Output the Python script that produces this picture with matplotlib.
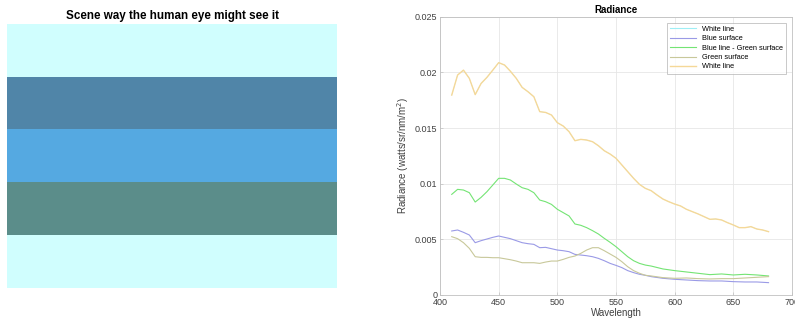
import numpy as np
import matplotlib.pyplot as plt
from matplotlib.colors import ListedColormap

plt.rcParams['font.family'] = ['Liberation Sans', 'DejaVu Sans']

# scene stripes, top to bottom
stripe_names = ["White line", "Blue surface", "Blue line - Green surface", "Green surface", "White line"]
stripe_colors = ["#d0fefe", "#5085a8", "#55a9e1", "#5b8d8a", "#d0fefe"]

wl_fine = [410, 415, 420, 425, 430, 435, 440, 445, 450, 455, 460, 465, 470, 475, 480,
           485, 490, 495, 500, 505, 510, 515, 520, 525, 530, 535, 540, 545, 550, 555,
           560, 565, 570, 575, 580]
wl_tail = [590, 600, 610, 620, 630, 640, 650, 660, 670, 680]

white_wl = wl_fine + [585, 590, 595, 600, 605, 610, 615, 620, 625, 630, 635, 640, 645,
                      650, 655, 660, 665, 670, 675, 680]
white_line = [0.01796, 0.01976, 0.0202, 0.01946, 0.0180, 0.0190, 0.01955, 0.0202, 0.02087,
              0.02066, 0.0201, 0.01946, 0.01865, 0.01826, 0.01781, 0.01647, 0.0164, 0.01617,
              0.01548, 0.01518, 0.01467, 0.01386, 0.01398, 0.01392, 0.01377, 0.01341, 0.01296,
              0.01266, 0.01228, 0.01168, 0.01108, 0.01048, 0.00994, 0.00958, 0.00937,
              0.00898, 0.00862, 0.00838, 0.00817, 0.0080, 0.0077, 0.00749, 0.00728, 0.00704,
              0.0068, 0.00683, 0.00674, 0.0065, 0.00629, 0.00605, 0.00605, 0.00614, 0.00593,
              0.00584, 0.00569]

blue_green = [0.00904, 0.00949, 0.00943, 0.00919, 0.00835, 0.00877, 0.00928, 0.00988, 0.01048,
              0.01048, 0.01033, 0.00997, 0.00964, 0.00949, 0.00919, 0.00853, 0.00838, 0.00814,
              0.0077, 0.0074, 0.0071, 0.00638, 0.00626, 0.00605, 0.00578, 0.00548, 0.00509,
              0.00473, 0.00434, 0.00389, 0.00344, 0.00308, 0.00284, 0.00269, 0.0026,
              0.00234, 0.00219, 0.00207, 0.00195, 0.00183, 0.00189, 0.0018, 0.00186, 0.0018, 0.00171]

blue_surface = [0.00575, 0.00584, 0.00563, 0.00539, 0.0047, 0.00488, 0.00503, 0.00518, 0.0053,
                0.00518, 0.00506, 0.00488, 0.0047, 0.00461, 0.00455, 0.00425, 0.00428, 0.00416,
                0.00404, 0.00398, 0.00389, 0.00365, 0.00359, 0.00353, 0.00344, 0.00329, 0.00308,
                0.00284, 0.00266, 0.00246, 0.00219, 0.00201, 0.00186, 0.00177, 0.00165,
                0.0015, 0.00141, 0.00135, 0.00129, 0.00126, 0.00126, 0.0012, 0.00117, 0.00117, 0.00111]

green_surface = [0.00524, 0.00506, 0.0047, 0.00419, 0.00344, 0.00338, 0.00338, 0.00335, 0.00335,
                 0.00326, 0.00317, 0.00305, 0.0029, 0.0029, 0.0029, 0.00284, 0.00296, 0.00305,
                 0.00305, 0.0032, 0.00338, 0.0035, 0.00374, 0.00404, 0.00425, 0.00425, 0.00398,
                 0.00368, 0.00338, 0.00299, 0.00254, 0.00219, 0.00195, 0.00177, 0.00171,
                 0.00156, 0.0015, 0.00153, 0.00147, 0.00144, 0.00147, 0.00147, 0.00153, 0.00159, 0.00165]

line_colors = ["#9eeef5", "#9a9ae6", "#74e474", "#c8c89a", "#f5d898"]

fig = plt.figure(figsize=(7.95, 3.24), dpi=100)

# left: the scene as stripes
ax1 = fig.add_axes([7.3 / 795, 1 - 287.7 / 324, 329.4 / 795, 263.4 / 324])
ax1.imshow(np.arange(5).reshape(5, 1), cmap=ListedColormap(stripe_colors),
           aspect='auto', interpolation='nearest', extent=[0, 1, 5, 0])
ax1.axis('off')
ax1.set_title("Scene way the human eye might see it", fontsize=8.4, fontweight='bold', pad=4)

# right: radiance curves (first white line sits under the last one)
ax2 = fig.add_axes([440 / 795, 1 - 295 / 324, 352 / 795, 278.3 / 324])
ax2.plot(white_wl, white_line, color=line_colors[0], lw=0.3, label=stripe_names[0])
ax2.plot(wl_fine + wl_tail, blue_surface, color=line_colors[1], lw=0.8, label=stripe_names[1])
ax2.plot(wl_fine + wl_tail, blue_green, color=line_colors[2], lw=0.8, label=stripe_names[2])
ax2.plot(wl_fine + wl_tail, green_surface, color=line_colors[3], lw=0.8, label=stripe_names[3])
ax2.plot(white_wl, white_line, color=line_colors[4], lw=1.0, label=stripe_names[4])

ax2.set_xlim(400, 700)
ax2.set_ylim(0, 0.025)
ax2.set_xticks([400, 450, 500, 550, 600, 650, 700])
ax2.set_yticks([0, 0.005, 0.01, 0.015, 0.02, 0.025])
ax2.set_yticklabels(["0", "0.005", "0.01", "0.015", "0.02", "0.025"])
ax2.grid(True, color="#e6e6e6", lw=0.6)
ax2.set_axisbelow(True)
for s in ax2.spines.values():
    s.set_color("#c0c0c0")
    s.set_linewidth(0.6)
ax2.tick_params(direction='in', length=2.5, width=0.5, color="#c0c0c0",
                labelsize=6.5, labelcolor="#404040", pad=2)
ax2.set_xlabel("Wavelength", fontsize=7, color="#404040", labelpad=1)
ax2.set_ylabel("Radiance (watts/sr/nm/m$^2$)", fontsize=7, color="#404040", labelpad=3)
ax2.set_title("Radiance", fontsize=7, fontweight='bold', pad=3)

leg = ax2.legend(loc='upper right', fontsize=5.3, frameon=True, fancybox=False,
                 edgecolor="#b0b0b0", handlelength=3.5, borderpad=0.45, labelspacing=0.3,
                 borderaxespad=0, bbox_to_anchor=(0.984, 0.979))
leg.get_frame().set_linewidth(0.6)
leg.legend_handles[0].set_linewidth(0.8)

fig.savefig("out.png", dpi=100)
